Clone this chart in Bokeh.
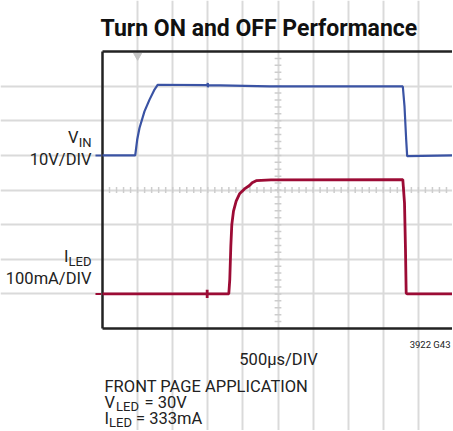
import numpy as np
from bokeh.plotting import figure
from bokeh.models import Range1d, Grid, FixedTicker, Label
from bokeh.embed import file_html
from bokeh.resources import INLINE

# ---- data ----
time_div_us = 500          # 500 us / DIV
n_xdiv = 10
n_ydiv = 8

vin_t = [0, 466, 494, 527, 598, 670, 741, 788, 1494, 1500, 1500, 1506, 2379, 4278, 4302, 4326, 4340, 5000]
vin_v = [0, 0, 4.5, 7.9, 12.7, 16.1, 19.0, 20.4, 20.3, 20.9, 19.7, 20.3, 19.9, 19.9, 14.2, 4.5, -0.2, 0]

iled_t = [0, 1491, 1491, 1491, 1491, 1799, 1813, 1828, 1842, 1866, 1904, 1952, 2023, 2094, 2132, 2189, 2400,
          4278, 4302, 4316, 4326, 4340, 5000]
iled_ma = [0, 0, 12, -12, 0, 0, 41, 138, 200, 239, 268, 289, 303, 313, 321, 327, 329,
           330, 263, 128, 2, 0, 0]

# scope scale settings
vin_per_div = 10      # V/DIV
vin_zero_div = 5      # ground level (divisions from bottom)
iled_per_div = 100    # mA/DIV
iled_zero_div = 1

BLUE = "#3a53a4"
RED = "#9c0b35"
GRID = "#dadada"
FONT = "Roboto"

# ---- geometry: the whole canvas is the frame ----
W, H = 452, 430
OFF = 1                      # page offset of the canvas
SX0, SY0 = 103, 329          # page pixel of screen origin (t=0, div 0)
PX_DIV_X, PX_DIV_Y = 35.1, 34.625
us_per_px = time_div_us / PX_DIV_X
div_per_px = 1 / PX_DIV_Y
x_start = -(SX0 - OFF) * us_per_px
x_end = (W + OFF - SX0) * us_per_px
y_start = -(H + OFF - SY0) * div_per_px
y_end = (SY0 - OFF) * div_per_px

p = figure(width=W, height=H, x_range=Range1d(x_start, x_end), y_range=Range1d(y_start, y_end),
           x_axis_type=None, y_axis_type=None, output_backend="svg", toolbar_location=None,
           min_border=0)
p.outline_line_color = None

def to_unit(zero_div, per_div):
    return Range1d((y_start - zero_div) * per_div, (y_end - zero_div) * per_div)

p.extra_y_ranges = {"vin": to_unit(vin_zero_div, vin_per_div),
                    "iled": to_unit(iled_zero_div, iled_per_div)}

x_full = n_xdiv * time_div_us
x_ticks = [i * time_div_us for i in range(1, n_xdiv)]
y_ticks = list(range(1, n_ydiv))
p.add_layout(Grid(dimension=0, ticker=FixedTicker(ticks=x_ticks), bounds=(0, n_ydiv),
                  grid_line_color=GRID, grid_line_width=2))
p.add_layout(Grid(dimension=1, ticker=FixedTicker(ticks=y_ticks), bounds=(0, x_full),
                  grid_line_color=GRID, grid_line_width=2))

# reticle minor ticks on the centre lines
xc = x_full / 2
yc = n_ydiv / 2
mx = np.arange(time_div_us / 5, x_full, time_div_us / 5)
p.segment(x0=mx, y0=yc - 0.09, x1=mx, y1=yc + 0.09, line_color="#cdcdcd", line_width=1.5)
my = np.arange(0.2, n_ydiv, 0.2)
p.segment(x0=xc - 48, y0=my, x1=xc + 48, y1=my, line_color="#cdcdcd", line_width=1.5)

# trigger position marker
p.scatter(x=[time_div_us], y=[n_ydiv - 0.12], marker="inverted_triangle", size=8,
          fill_color="#c4c4c4", line_color="#c4c4c4")

# screen border (left, top, bottom)
p.segment(x0=[0, 0, 0], y0=[0, n_ydiv, 0], x1=[0, x_full, x_full], y1=[n_ydiv, n_ydiv, 0],
          line_color="#222222", line_width=2.5)

# traces
p.line(vin_t, vin_v, y_range_name="vin", line_color=BLUE, line_width=2.2)
p.line(iled_t, iled_ma, y_range_name="iled", line_color=RED, line_width=2.8)

# ground reference stubs left of the screen
p.segment(x0=[-100], y0=[0], x1=[-20], y1=[0], y_range_name="vin", line_color=BLUE, line_width=2)
p.segment(x0=[-100], y0=[0], x1=[-20], y1=[0], y_range_name="iled", line_color=RED, line_width=2)

# ---- text (positions in page pixels converted to data units) ----
def dx(px):
    return (px - SX0) * us_per_px

def dy(py):
    return (SY0 - py) * div_per_px

def lab(text, px, py, size, align="left", bold=False, color="#222222"):
    p.add_layout(Label(x=dx(px), y=dy(py), text=text, text_font=FONT, text_font_size=f"{size}px",
                       text_align=align, text_baseline="alphabetic", text_color=color,
                       text_font_style="bold" if bold else "normal"))

lab("Turn ON and OFF Performance", 101, 28.5, 23, bold=True, color="#111111")

lab("V", 79, 137.5, 16.5, align="right")
lab("IN", 92, 142.5, 13, align="right")
lab("10V/DIV", 92, 160, 16.5, align="right")
lab("I", 69, 257, 16.5, align="right")
lab("LED", 92, 262, 13, align="right")
lab("100mA/DIV", 92, 278.5, 16.5, align="right")

lab("500\u00b5s/DIV", 279, 359.5, 16.5, align="center")
lab("3922 G43", 451, 345, 9.5, align="right")
lab("FRONT PAGE APPLICATION", 105, 386.5, 16.5)
lab("V", 105, 402.5, 16.5)
lab("LED", 116.5, 406.5, 13)
lab("= 30V", 145, 402.5, 16.5)
lab("I", 105, 418.5, 16.5)
lab("LED", 109.5, 422.5, 13)
lab("= 333mA", 136.5, 418.5, 16.5)

open("out.html", "w").write(file_html(p, INLINE))
